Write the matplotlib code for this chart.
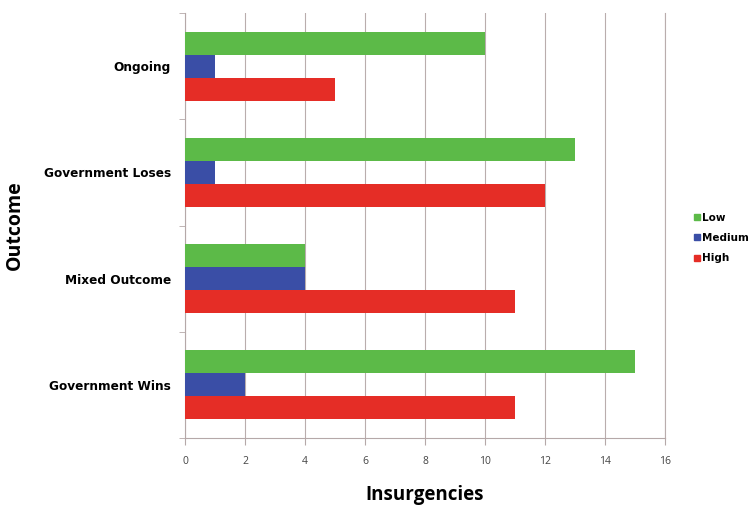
import numpy as np
import matplotlib
matplotlib.use("Agg")
import matplotlib.pyplot as plt

outcomes = ["Ongoing", "Government Loses", "Mixed Outcome", "Government Wins"]
series = ["Low", "Medium", "High"]
low = [10, 13, 4, 15]
medium = [1, 1, 4, 2]
high = [5, 12, 11, 11]
xticks = [0, 2, 4, 6, 8, 10, 12, 14, 16]

colors = ["#5cba48", "#3a4ea6", "#e52d26"]
values = [low, medium, high]

fig = plt.figure(figsize=(7.5, 5.07), dpi=100)
ax = fig.add_axes([185 / 750, 1 - 438 / 507, 480 / 750, 425 / 507])

y = np.arange(len(outcomes))
h = 0.217
for i, (name, vals, c) in enumerate(zip(series, values, colors)):
    ax.barh(y + (i - 1) * h, vals, height=h, color=c, label=name, zorder=3)

ax.set_ylim(len(outcomes) - 0.5, -0.5)
ax.set_xlim(0, 16)
ax.set_yticks(y)
ax.set_yticklabels(outcomes, fontsize=8.7, fontweight="bold", family="DejaVu Sans")
ax.set_yticks(np.arange(len(outcomes) + 1) - 0.5, minor=True)
ax.tick_params(axis="y", which="major", length=0, pad=10)
ax.tick_params(axis="y", which="minor", length=4, color="#b5a8a8")
ax.set_xticks(xticks)
ax.set_xticklabels([str(t) for t in xticks], fontsize=7.5, color="#444444", family="Open Sans")
ax.tick_params(axis="x", length=5, color="#b5a8a8", pad=8)

ax.grid(axis="x", color="#b9adad", linewidth=0.8, zorder=0)
ax.axvline(16, color="#b9adad", linewidth=0.8, zorder=0, clip_on=False)
for s in ["top", "right"]:
    ax.spines[s].set_visible(False)
for s in ["left", "bottom"]:
    ax.spines[s].set_color("#b5a8a8")

fig.text(425 / 750, 1 - 495 / 507, "Insurgencies", fontsize=13.5, fontweight="bold",
         family="Open Sans", ha="center", va="center")
fig.text(15 / 750, 1 - 225 / 507, "Outcome", rotation=90, fontsize=14, fontweight="bold",
         family="Open Sans", ha="center", va="center")

handles = [plt.Line2D([], [], marker="s", linestyle="", color=c, markersize=4) for c in colors]
leg = fig.legend(handles, series, loc="center left", bbox_to_anchor=(683 / 750, 1 - 238 / 507),
                 frameon=False, handletextpad=0.1, labelspacing=1.0, handlelength=0.8,
                 prop={"family": "DejaVu Sans", "weight": "bold", "size": 7.5})

fig.savefig("out.png", dpi=100)
